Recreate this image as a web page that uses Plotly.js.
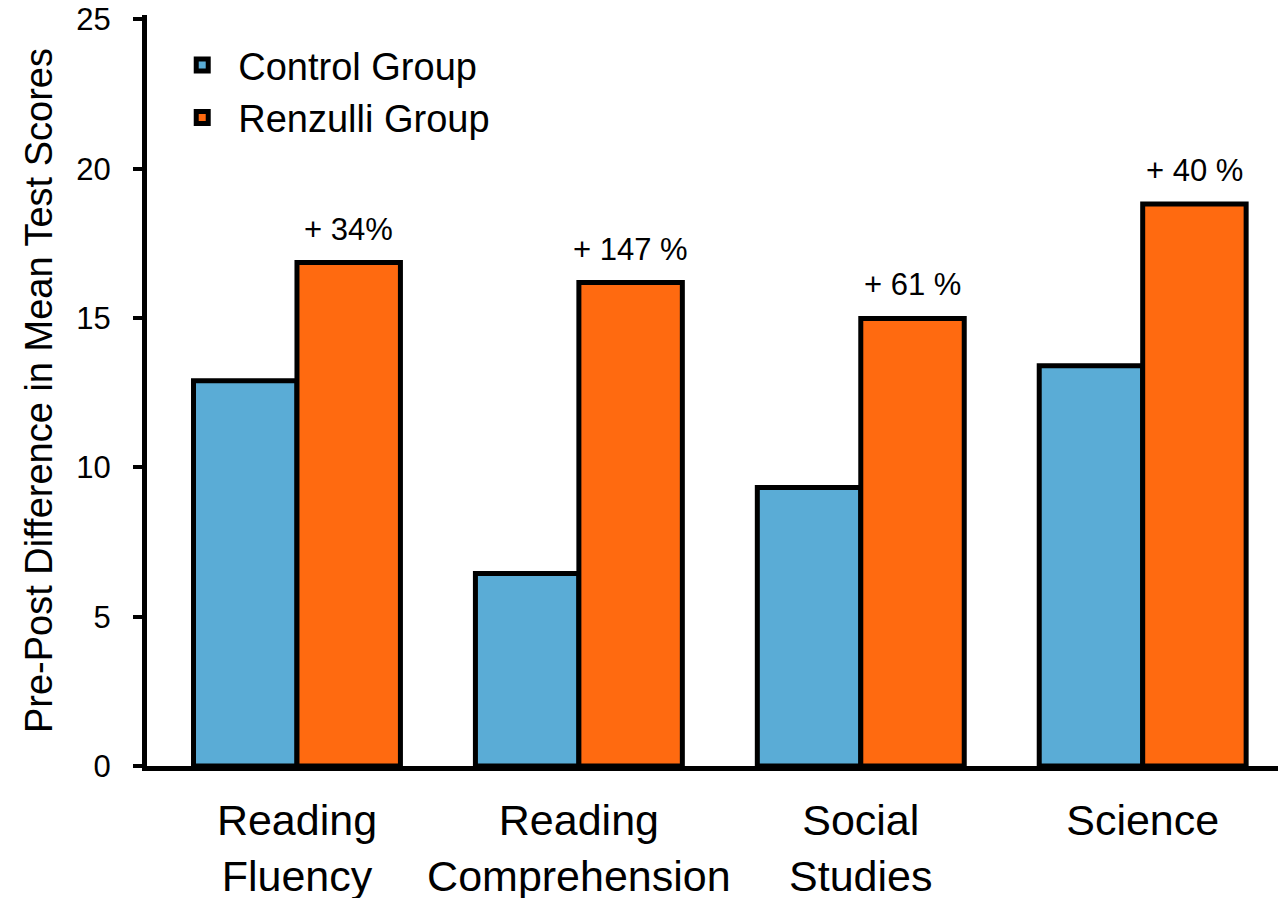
<!DOCTYPE html>
<html>
<head>
<meta charset="utf-8">
<script src="https://cdn.plot.ly/plotly-3.0.1.min.js"></script>
<style>html,body{margin:0;padding:0;background:#fff;}#chart{width:1278px;height:898px;}</style>
</head>
<body>
<div id="chart"></div>
<script>
var categories = ["Reading<br>Fluency", "Reading<br>Comprehension", "Social<br>Studies", "Science"];
var controlValues = [12.9, 6.45, 9.33, 13.4];
var renzulliValues = [16.86, 16.19, 14.99, 18.82];
var gainLabels = ["+ 34%", "+ 147 %", "+ 61 %", "+ 40 %"];
var yTicks = [0, 5, 10, 15, 20, 25];

var FONT = "Liberation Sans, Arial, sans-serif";
var bargap = 0.266;

var traces = [
  {
    type: "bar", name: "Control Group", x: categories, y: controlValues,
    marker: {color: "#5AACD6", line: {color: "#000", width: 5}},
    hoverinfo: "y"
  },
  {
    type: "bar", name: "Renzulli Group", x: categories, y: renzulliValues,
    marker: {color: "#FF6A10", line: {color: "#000", width: 5}},
    hoverinfo: "y"
  }
];

var annotations = gainLabels.map(function (t, i) {
  return {
    x: i + (1 - bargap) / 4, xref: "x", y: renzulliValues[i], yref: "y",
    text: t, showarrow: false, yanchor: "bottom", yshift: 14,
    font: {family: FONT, size: 31, color: "#000"}
  };
});

var layout = {
  width: 1278, height: 898,
  margin: {l: 147, r: 0, t: 15, b: 132},
  paper_bgcolor: "#fff", plot_bgcolor: "#fff",
  bargap: bargap, bargroupgap: 0, barmode: "group",
  showlegend: true,
  legend: {
    x: 0.017, y: 0.975, xanchor: "left", yanchor: "top",
    font: {family: FONT, size: 38, color: "#000"},
    bgcolor: "rgba(0,0,0,0)", tracegroupgap: 0, itemwidth: 62
  },
  xaxis: {
    type: "category", range: [-0.532, 3.48],
    showline: true, linecolor: "#000", linewidth: 5,
    ticks: "", showgrid: false, zeroline: false,
    tickfont: {family: FONT, size: 43, color: "#000"},
    ticklabelstandoff: 12
  },
  yaxis: {
    range: [0, 25.15], tickvals: yTicks, ticktext: yTicks.map(String),
    showline: true, linecolor: "#000", linewidth: 5,
    ticks: "outside", ticklen: 9, tickwidth: 4, tickcolor: "#000",
    showgrid: false, zeroline: false,
    tickfont: {family: FONT, size: 31, color: "#000"},
    ticklabelstandoff: 16,
    title: {text: "Pre-Post Difference in Mean Test Scores", standoff: 14,
            font: {family: FONT, size: 38, color: "#000"}}
  },
  annotations: annotations
};

Plotly.newPlot("chart", traces, layout, {staticPlot: true});
</script>
</body>
</html>
